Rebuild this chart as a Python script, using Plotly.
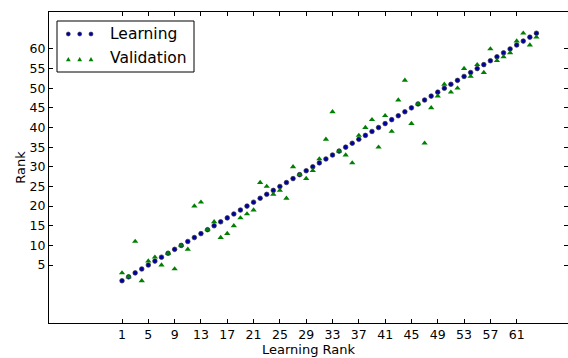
import plotly.graph_objects as go

# Data
learning_rank = list(range(1, 65))
learning_y = list(range(1, 65))
validation_y = [3, 2, 11, 1, 6, 7, 5, 8, 4, 10, 9, 20, 21, 14, 16, 12, 13, 15, 17, 18,
                19, 26, 25, 23, 24, 22, 30, 28, 27, 29, 32, 37, 44, 34, 33, 31, 38, 40, 42, 35,
                43, 39, 47, 52, 41, 46, 36, 45, 48, 51, 49, 50, 55, 53, 56, 54, 60, 57, 58, 59,
                62, 64, 61, 63]
x_ticks = [1, 5, 9, 13, 17, 21, 25, 29, 33, 37, 41, 45, 49, 53, 57, 61]
y_ticks = [5, 10, 15, 20, 25, 30, 35, 40, 45, 50, 55, 60]

W, H = 568, 358
ML, MR, MT, MB = 49, 0, 12, 35
PW, PH = W - ML - MR, H - MT - MB

FONT = "DejaVu Sans"

fig = go.Figure()
fig.add_trace(go.Scatter(
    x=learning_rank, y=learning_y, mode="markers", name="Learning",
    marker=dict(symbol="circle", size=4.6, color="#0000a8",
                line=dict(color="#333333", width=0.7)),
    showlegend=False))
fig.add_trace(go.Scatter(
    x=learning_rank, y=validation_y, mode="markers", name="Validation",
    marker=dict(symbol="triangle-up", size=5.5, color="#008000",
                line=dict(color="#008000", width=0)),
    showlegend=False))


def px2paper(px, py):
    return (px - ML) / PW, (H - MB - py) / PH


shapes = []
annotations = []
# Legend box
x0, y0 = px2paper(57, 21)
x1, y1 = px2paper(194, 72)
shapes.append(dict(type="rect", xref="paper", yref="paper", x0=x0, x1=x1, y0=y1, y1=y0,
                   line=dict(color="black", width=1), fillcolor="white", layer="above"))
r = 2.0
for mx in [68.3, 79.7, 91]:
    cx0, cy0 = px2paper(mx - r, 34 - r)
    cx1, cy1 = px2paper(mx + r, 34 + r)
    shapes.append(dict(type="circle", xref="paper", yref="paper", x0=cx0, x1=cx1, y0=cy1, y1=cy0,
                       fillcolor="#0000a8", line=dict(color="#333333", width=0.6), layer="above"))
    # triangle
    ty = 59.5
    ax, ay = px2paper(mx, ty - 2.5)
    bx, by = px2paper(mx - 2.4, ty + 1.8)
    cx, cy = px2paper(mx + 2.4, ty + 1.8)
    shapes.append(dict(type="path", xref="paper", yref="paper",
                       path=f"M {ax} {ay} L {bx} {by} L {cx} {cy} Z",
                       fillcolor="#008000", line=dict(color="#008000", width=0), layer="above"))
for label, py in [("Learning", 34), ("Validation", 58.5)]:
    tx, ty = px2paper(108, py)
    annotations.append(dict(text=label, xref="paper", yref="paper", x=tx, y=ty,
                            xanchor="left", yanchor="middle", showarrow=False,
                            font=dict(family=FONT, size=15.5, color="black")))

fig.update_layout(
    width=W, height=H,
    margin=dict(l=ML, r=MR, t=MT, b=MB, pad=0),
    paper_bgcolor="white", plot_bgcolor="white",
    font=dict(family=FONT, size=12, color="black"),
    shapes=shapes, annotations=annotations,
    showlegend=False,
)
fig.update_xaxes(
    range=[-10.1, 68.8], tickmode="array", tickvals=x_ticks,
    ticks="inside", ticklen=4, tickwidth=1, tickcolor="black",
    showline=True, linecolor="black", linewidth=1, mirror="ticks",
    showgrid=False, zeroline=False,
    tickfont=dict(family=FONT, size=12.5),
    title=dict(text="Learning Rank", font=dict(family=FONT, size=13), standoff=0),
)
fig.update_yaxes(
    range=[-9.75, 69.4], tickmode="array", tickvals=y_ticks,
    ticks="inside", ticklen=4, tickwidth=1, tickcolor="black",
    showline=True, linecolor="black", linewidth=1, mirror="ticks",
    showgrid=False, zeroline=False,
    tickfont=dict(family=FONT, size=12.5),
    title=dict(text="Rank", font=dict(family=FONT, size=13), standoff=1),
)

fig.write_html("out.html")
